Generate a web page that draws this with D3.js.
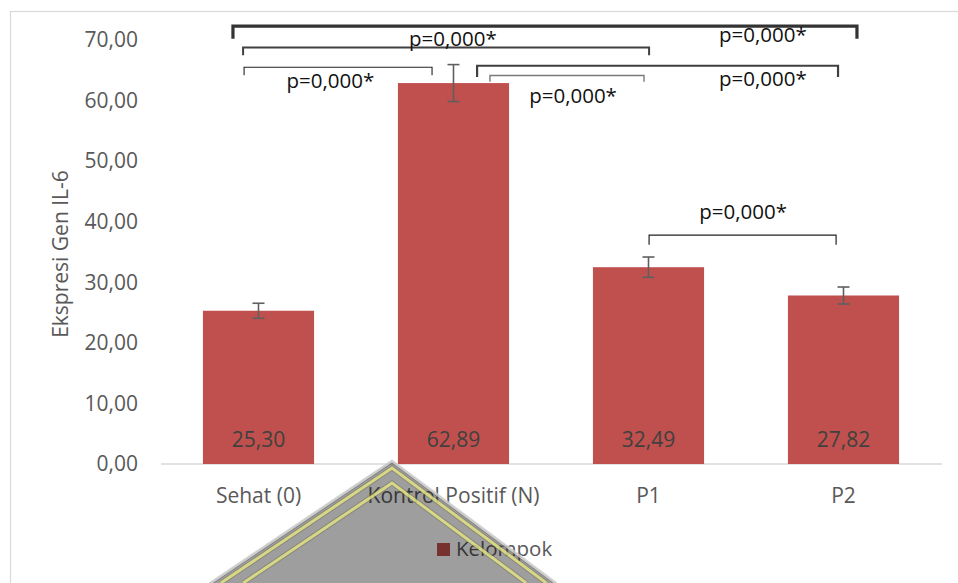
<!DOCTYPE html>
<html><head><meta charset="utf-8">
<script src="https://cdn.jsdelivr.net/npm/d3@7"></script>
<style>html,body{margin:0;padding:0;background:#fff;overflow:hidden}</style>
</head><body>
<svg id="c" width="958" height="583"></svg>
<script>
// ---- data ----
const categories = ["Sehat (0)", "Kontrol Positif (N)", "P1", "P2"];
const values = [25.30, 62.89, 32.49, 27.82];
const errors = [1.24, 3.05, 1.68, 1.40];
const valueLabels = ["25,30", "62,89", "32,49", "27,82"];
const yTicks = [0, 10, 20, 30, 40, 50, 60, 70];
const yTickLabels = ["0,00", "10,00", "20,00", "30,00", "40,00", "50,00", "60,00", "70,00"];
const seriesName = "Kelompok";
const yTitle = "Ekspresi Gen IL-6";
// significance comparisons (category index pairs) and their p-value texts
const comparisons = [[0, 3], [0, 2], [0, 1], [1, 3], [1, 2], [2, 3]];
const pTexts = ["p=0,000*", "p=0,000*", "p=0,000*", "p=0,000*", "p=0,000*", "p=0,000*"];

// ---- annotation layout (category-index / value coordinates) ----
const bracketLayout = [
  {x0: -0.131, x1: 3.069, top: 72.3, foot: 70.2, lx: 2.587, ly: 69.6, w: 3.2, c: "#333"},
  {x0: -0.079, x1: 2.003, top: 68.75, foot: 67.5, lx: 0.997, ly: 69.0, w: 2, c: "#404040"},
  {x0: -0.074, x1: 0.890, top: 65.5, foot: 64.2, lx: 0.369, ly: 62.1, w: 1.1, c: "#222"},
  {x0: 1.121, x1: 2.972, top: 65.75, foot: 63.9, lx: 2.587, ly: 62.4, w: 2.2, c: "#404040"},
  {x0: 1.187, x1: 1.977, top: 64.15, foot: 63.1, lx: 1.613, ly: 59.6, w: 1.4, c: "#7a7a7a"},
  {x0: 2.003, x1: 2.962, top: 37.8, foot: 36.2, lx: 2.485, ly: 40.4, w: 1.2, c: "#222"}
];

const svg = d3.select("#c");
const FONT = "'Open Sans', sans-serif";

// chart border
svg.append("rect").attr("x", 10.5).attr("y", 11.5).attr("width", 980).attr("height", 600)
  .attr("fill", "none").attr("stroke", "#d9d9d9").attr("stroke-width", 1.2);

const x = d3.scaleBand().domain(categories).range([161, 941]).paddingInner(0.43).paddingOuter(0.215);
const y = d3.scaleLinear().domain([0, 70]).range([464, 40]);
const xi = d3.scaleLinear().domain([0, categories.length - 1])
  .range([x(categories[0]) + x.bandwidth() / 2, x(categories[categories.length - 1]) + x.bandwidth() / 2]);

// y axis (labels only)
const yAxis = d3.axisLeft(y).tickValues(yTicks).tickFormat((d, i) => yTickLabels[i]).tickSize(0).tickPadding(0);
const ya = svg.append("g").attr("transform", "translate(138,0)").call(yAxis);
ya.select(".domain").remove();
ya.selectAll("text").attr("font-family", FONT).attr("font-size", 21).attr("fill", "#595959");

// x axis
const xAxis = d3.axisBottom(x).tickSize(0).tickPadding(0);
const xa = svg.append("g").attr("transform", "translate(0,464)").call(xAxis);
xa.select(".domain").attr("stroke", "#d9d9d9").attr("stroke-width", 1.5).attr("d", "M161,0H942");
xa.selectAll("text").attr("font-family", FONT).attr("font-size", 21).attr("fill", "#595959")
  .attr("dy", null).attr("y", 39);

// y title
svg.append("text").attr("transform", "translate(68,254) rotate(-90)").attr("text-anchor", "middle")
  .attr("font-family", FONT).attr("font-size", 21).attr("fill", "#595959").text(yTitle);

// bars
svg.append("g").selectAll("rect").data(values).join("rect")
  .attr("x", (d, i) => x(categories[i])).attr("width", x.bandwidth())
  .attr("y", d => y(d)).attr("height", d => y(0) - y(d)).attr("fill", "#c0504d");

// error bars
const eg = svg.append("g").attr("stroke", "#5f5f5f").attr("stroke-width", 1.6).attr("fill", "none");
values.forEach((v, i) => {
  const cx = x(categories[i]) + x.bandwidth() / 2;
  eg.append("line").attr("x1", cx).attr("x2", cx).attr("y1", y(v + errors[i])).attr("y2", y(v - errors[i]));
  eg.append("line").attr("x1", cx - 6).attr("x2", cx + 6).attr("y1", y(v + errors[i])).attr("y2", y(v + errors[i]));
  eg.append("line").attr("x1", cx - 6).attr("x2", cx + 6).attr("y1", y(v - errors[i])).attr("y2", y(v - errors[i]));
});

// value labels
svg.append("g").selectAll("text").data(valueLabels).join("text")
  .attr("x", (d, i) => x(categories[i]) + x.bandwidth() / 2).attr("y", 447)
  .attr("text-anchor", "middle").attr("font-family", FONT).attr("font-size", 21).attr("fill", "#404040")
  .text(d => d);

// significance brackets
const bg = svg.append("g").attr("fill", "none");
comparisons.forEach((cmp, k) => {
  const L = bracketLayout[k];
  const x0 = xi(L.x0), x1 = xi(L.x1), yt = y(L.top), yf = y(L.foot);
  bg.append("path").attr("d", `M${x0},${yf}V${yt}H${x1}V${yf}`)
    .attr("stroke", L.c).attr("stroke-width", L.w).attr("stroke-linejoin", "miter");
  svg.append("text").attr("x", xi(L.lx)).attr("y", y(L.ly)).attr("text-anchor", "middle")
    .attr("font-family", FONT).attr("font-size", 20.5).attr("fill", "#111").text(pTexts[k]);
});

// legend
svg.append("rect").attr("x", 437).attr("y", 543).attr("width", 13).attr("height", 13).attr("fill", "#c0504d");
svg.append("text").attr("x", 456).attr("y", 556).attr("font-family", FONT).attr("font-size", 20.5)
  .attr("fill", "#595959").text(seriesName);

// watermark logo overlay (decorative, translucent)
const wm = svg.append("g");
const ax = 392, ay = 460, bl = 209, br = 557, by = 583;
const lx = ax - bl, rx = br - ax, hh = by - ay;
function chev(d) {
  const f = (hh - d) / hh;
  return `M${ax - lx * f},${by}L${ax},${ay + d}L${ax + rx * f},${by}`;
}
wm.append("path").attr("d", `M${bl},${by}L${ax},${ay}L${br},${by}Z`).attr("fill", "rgba(0,0,0,0.38)");
wm.append("path").attr("d", chev(1)).attr("fill", "none").attr("stroke", "rgba(215,215,215,0.8)").attr("stroke-width", 3);
wm.append("path").attr("d", chev(3)).attr("fill", "none").attr("stroke", "rgba(90,90,90,0.5)").attr("stroke-width", 1);
[8, 23].forEach(d => {
  wm.append("path").attr("d", chev(d)).attr("fill", "none").attr("stroke", "rgba(110,110,80,0.45)").attr("stroke-width", 5);
  wm.append("path").attr("d", chev(d)).attr("fill", "none").attr("stroke", "rgba(245,245,140,0.72)").attr("stroke-width", 3);
});
</script>
</body></html>
